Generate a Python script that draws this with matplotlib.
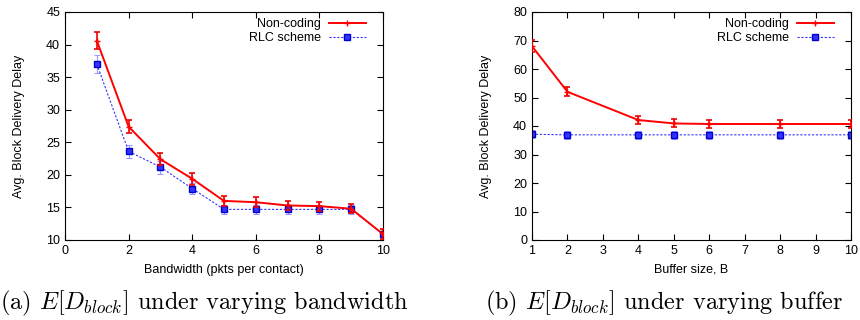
import matplotlib
matplotlib.use("Agg")
import matplotlib.pyplot as plt
from matplotlib.lines import Line2D
import numpy as np

plt.rcParams['font.family'] = ['Liberation Sans', 'DejaVu Sans']
plt.rcParams['mathtext.fontset'] = 'cm'

# (a) varying bandwidth
bw = [1, 2, 3, 4, 5, 6, 7, 8, 9, 10]
bw_nc = [40.6, 27.4, 22.4, 19.4, 16.0, 15.8, 15.3, 15.2, 14.8, 10.9]
bw_nc_err = [1.3, 1.0, 0.9, 0.9, 0.8, 0.8, 0.7, 0.7, 0.7, 0.8]
bw_rlc = [37.0, 23.6, 21.2, 17.9, 14.7, 14.7, 14.7, 14.7, 14.7, 10.9]
bw_rlc_err = [1.4, 1.0, 1.0, 0.9, 0.7, 0.7, 0.7, 0.7, 0.7, 0.8]

# (b) varying buffer
buf = [1, 2, 4, 5, 6, 8, 10]
buf_nc = [68.0, 52.0, 42.1, 40.9, 40.7, 40.7, 40.7]
buf_nc_err = [2.2, 1.6, 1.4, 1.4, 1.4, 1.4, 1.4]
buf_rlc = [37.1, 36.9, 36.9, 36.9, 36.9, 36.9, 36.9]
buf_rlc_err = [1.4, 1.4, 1.4, 1.4, 1.4, 1.4, 1.4]

fig = plt.figure(figsize=(8.6, 3.2), dpi=100)
ax1 = fig.add_axes([0.0756, 0.25, 0.3697, 0.7125])
ax2 = fig.add_axes([0.6186, 0.25, 0.3709, 0.7125])

nc_style = dict(color='#ff0000', lw=1.4, marker='+', ms=4)
rlc_style = dict(color='#3333ff', lw=0.8, ls=(0, (2, 1.5)), marker='s', ms=4.5,
                 mfc='#3333ff', mec='#0000cc')


def draw(ax, x, nc, nce, rlc, rlce):
    ax.errorbar(x, rlc, yerr=rlce, ecolor='#9999ff', elinewidth=0.8,
                capsize=2, capthick=0.8, zorder=2, **rlc_style)
    ax.errorbar(x, nc, yerr=nce, ecolor='#ee0000', elinewidth=1.2,
                capsize=2.5, capthick=1.2, zorder=3, **nc_style)
    ax.tick_params(direction='in', top=True, right=True, labelsize=9, length=4)
    ax.set_ylabel('Avg. Block Delivery Delay', fontsize=9, labelpad=15)
    handles = [Line2D([], [], **nc_style), Line2D([], [], **rlc_style)]
    ax.legend(handles, ['Non-coding', 'RLC scheme'], loc='upper right',
              frameon=False, fontsize=9, markerfirst=False, handlelength=2.9,
              handletextpad=0.65, labelspacing=0.15, borderaxespad=0.2,
              borderpad=0.3, bbox_to_anchor=(0.965, 1.0))


draw(ax1, bw, bw_nc, bw_nc_err, bw_rlc, bw_rlc_err)
ax1.set_xlim(0, 10)
ax1.set_ylim(10, 45)
ax1.set_xticks(np.arange(0, 11, 2))
ax1.set_yticks(np.arange(10, 46, 5))
ax1.set_xlabel('Bandwidth (pkts per contact)', fontsize=9, labelpad=5)

draw(ax2, buf, buf_nc, buf_nc_err, buf_rlc, buf_rlc_err)
ax2.set_xlim(1, 10)
ax2.set_ylim(0, 80)
ax2.set_xticks(np.arange(1, 11, 1))
ax2.set_yticks(np.arange(0, 81, 10))
ax2.set_xlabel('Buffer size, B', fontsize=9, labelpad=5)

fig.text(0.0005, 0.033, r'(a) $E[D_{block}]$ under varying bandwidth',
         ha='left', va='baseline', fontsize=17.5, family='cmr10')
fig.text(0.564, 0.033, r'(b) $E[D_{block}]$ under varying buffer',
         ha='left', va='baseline', fontsize=17.5, family='cmr10')

fig.savefig('out.png', dpi=100)
